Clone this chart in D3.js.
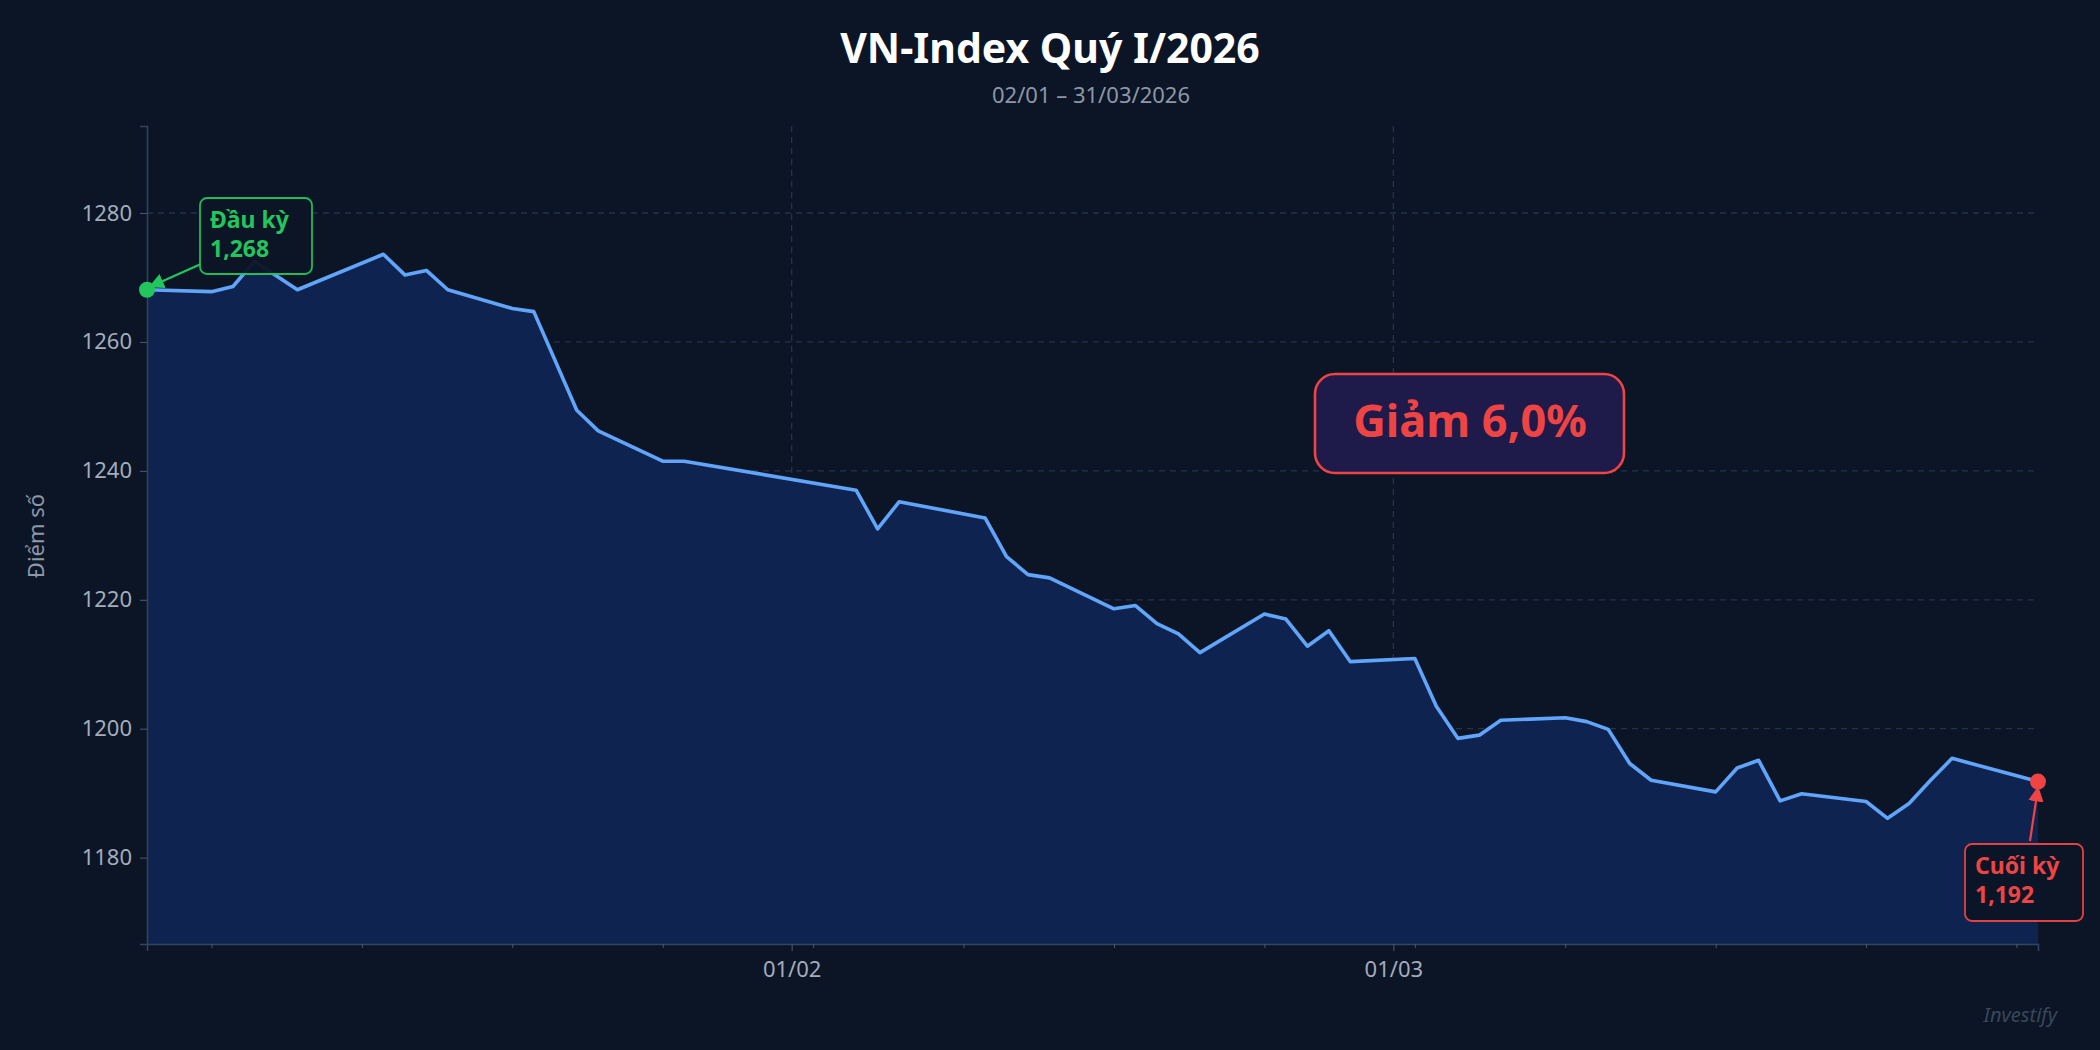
<!DOCTYPE html>
<html><head><meta charset="utf-8">
<script src="https://cdn.jsdelivr.net/npm/d3@7"></script>
<style>body{margin:0;background:#0b1526;}svg{display:block;font-family:"Noto Sans",sans-serif;}</style>
</head><body>
<svg id="c" width="2100" height="1050"></svg>
<script>
const dates = ["2026-01-02","2026-01-05","2026-01-06","2026-01-07","2026-01-09","2026-01-13","2026-01-14","2026-01-15","2026-01-16","2026-01-19","2026-01-20","2026-01-22","2026-01-23","2026-01-26","2026-01-27","2026-02-04","2026-02-05","2026-02-06","2026-02-10","2026-02-11","2026-02-12","2026-02-13","2026-02-16","2026-02-17","2026-02-18","2026-02-19","2026-02-20","2026-02-23","2026-02-24","2026-02-25","2026-02-26","2026-02-27","2026-03-02","2026-03-03","2026-03-04","2026-03-05","2026-03-06","2026-03-09","2026-03-10","2026-03-11","2026-03-12","2026-03-13","2026-03-16","2026-03-17","2026-03-18","2026-03-19","2026-03-20","2026-03-23","2026-03-24","2026-03-25","2026-03-26","2026-03-27","2026-03-31"];
const values = [1268.1,1267.8,1268.6,1272.5,1268.1,1273.6,1270.4,1271.1,1268.1,1265.2,1264.7,1249.4,1246.2,1241.5,1241.5,1237.0,1231.0,1235.2,1232.7,1226.7,1223.9,1223.4,1218.6,1219.1,1216.3,1214.7,1211.8,1217.8,1217.0,1212.8,1215.2,1210.4,1210.9,1203.5,1198.5,1199.0,1201.3,1201.7,1201.1,1199.9,1194.6,1192.0,1190.2,1193.9,1195.1,1188.8,1189.9,1188.7,1186.1,1188.4,1192.0,1195.4,1191.8];
const yTicks = [1180,1200,1220,1240,1260,1280];
const xTickDates = ["2026-02-01","2026-03-01"];
const xTickLabels = ["01/02","01/03"];
const title = "VN-Index Quý I/2026";
const subtitle = "02/01 – 31/03/2026";
const yLabel = "Điểm số";
const changeLabel = "Giảm 6,0%";
const startLabel = ["Đầu kỳ","1,268"];
const endLabel = ["Cuối kỳ","1,192"];

const parse = d3.utcParse("%Y-%m-%d");
const data = dates.map((d,i)=>({t:parse(d),v:values[i]}));
const svg = d3.select("#c");
const L=147,R=2038,T=126,B=944;
const x = d3.scaleUtc().domain([parse("2026-01-02"),parse("2026-03-31")]).range([L,R]);
const y = d3.scaleLinear().domain([1166.6,1293.5]).range([B,T]);

svg.append("rect").attr("width",2100).attr("height",1050).attr("fill","#0b1526");
// grid
svg.append("g").selectAll("line").data(yTicks).join("line")
 .attr("x1",L).attr("x2",R).attr("y1",d=>y(d)).attr("y2",d=>y(d))
 .attr("stroke","#24334a").attr("stroke-width",1.3).attr("stroke-dasharray","6,5");
svg.append("g").selectAll("line").data(xTickDates).join("line")
 .attr("x1",d=>x(parse(d))).attr("x2",d=>x(parse(d))).attr("y1",T).attr("y2",B)
 .attr("stroke","#24334a").attr("stroke-width",1.3).attr("stroke-dasharray","6,5");

const area = d3.area().x(d=>x(d.t)).y0(B).y1(d=>y(d.v));
svg.append("path").datum(data).attr("d",area).attr("fill","#0f2350");
const line = d3.line().x(d=>x(d.t)).y(d=>y(d.v));
svg.append("path").datum(data).attr("d",line).attr("fill","none").attr("stroke","#60a5fa").attr("stroke-width",3.6).attr("stroke-linejoin","round");

// axes
const ya = svg.append("g").attr("transform",`translate(${L},0)`).call(d3.axisLeft(y).tickValues(yTicks).tickSize(7).tickPadding(8).tickFormat(d3.format("d")));
const xa = svg.append("g").attr("transform",`translate(0,${B})`).call(d3.axisBottom(x).tickValues(xTickDates.map(parse)).tickSize(7).tickPadding(10).tickFormat((d,i)=>xTickLabels[i]));
const xm = svg.append("g").attr("transform",`translate(0,${B})`).call(d3.axisBottom(x).ticks(d3.utcMonday).tickSize(4).tickFormat(""));
[ya,xa,xm].forEach(g=>{g.select(".domain").attr("stroke","#33445e").attr("stroke-width",1.5);
 g.selectAll(".tick line").attr("stroke","#4a5a72");
 g.selectAll("text").attr("fill","#a3adbb").attr("font-size",22).attr("font-family","Noto Sans");});
xm.select(".domain").remove();

svg.append("text").attr("x",1050).attr("y",63).attr("text-anchor","middle").attr("fill","#ffffff").attr("font-size",41).attr("font-weight","bold").text(title);
svg.append("text").attr("x",1091).attr("y",103).attr("text-anchor","middle").attr("fill","#8d97a8").attr("font-size",22).text(subtitle);
svg.append("text").attr("transform","translate(44,536) rotate(-90)").attr("text-anchor","middle").attr("fill","#8d97a8").attr("font-size",22).text(yLabel);

// markers
const f=data[0], l=data[data.length-1];
svg.append("defs").html(`<marker id="ag" viewBox="0 0 10 10" refX="9" refY="5" markerWidth="7" markerHeight="7" orient="auto-start-reverse"><path d="M0,0L10,5L0,10z" fill="#22c55e"/></marker>
<marker id="ar" viewBox="0 0 10 10" refX="9" refY="5" markerWidth="7" markerHeight="7" orient="auto-start-reverse"><path d="M0,0L10,5L0,10z" fill="#ef4444"/></marker>`);
svg.append("circle").attr("cx",x(f.t)).attr("cy",y(f.v)).attr("r",8).attr("fill","#22c55e");
svg.append("circle").attr("cx",x(l.t)).attr("cy",y(l.v)).attr("r",8).attr("fill","#ef4444");

function box(x0,y0,w,h,col,lines){
 svg.append("rect").attr("x",x0).attr("y",y0).attr("width",w).attr("height",h).attr("rx",7).attr("fill","#0b1526").attr("stroke",col).attr("stroke-width",1.8).attr("opacity",0.95);
 lines.forEach((s,i)=>svg.append("text").attr("x",x0+10).attr("y",y0+30+i*29).attr("fill",col).attr("font-size",23).attr("font-weight","bold").text(s));
}
svg.append("line").attr("x1",201).attr("y1",264).attr("x2",x(f.t)+3).attr("y2",y(f.v)-3).attr("stroke","#22c55e").attr("stroke-width",2.2).attr("marker-end","url(#ag)");
box(200,198,112,76,"#22c55e",startLabel);
svg.append("line").attr("x1",2030).attr("y1",841).attr("x2",x(l.t)).attr("y2",y(l.v)+6).attr("stroke","#ef4444").attr("stroke-width",2.2).attr("marker-end","url(#ar)");
box(1965,844,118,77,"#ef4444",endLabel);

svg.append("rect").attr("x",1315).attr("y",374).attr("width",309).attr("height",99).attr("rx",20).attr("fill","#1e1b4b").attr("stroke","#ef4444").attr("stroke-width",2.6);
svg.append("text").attr("x",1470).attr("y",437).attr("text-anchor","middle").attr("fill","#ef4444").attr("font-size",45).attr("font-weight","bold").text(changeLabel);
svg.append("text").attr("x",2057).attr("y",1022).attr("text-anchor","end").attr("fill","#3a4658").attr("font-size",20).attr("font-style","italic").text("Investify");
</script></body></html>
